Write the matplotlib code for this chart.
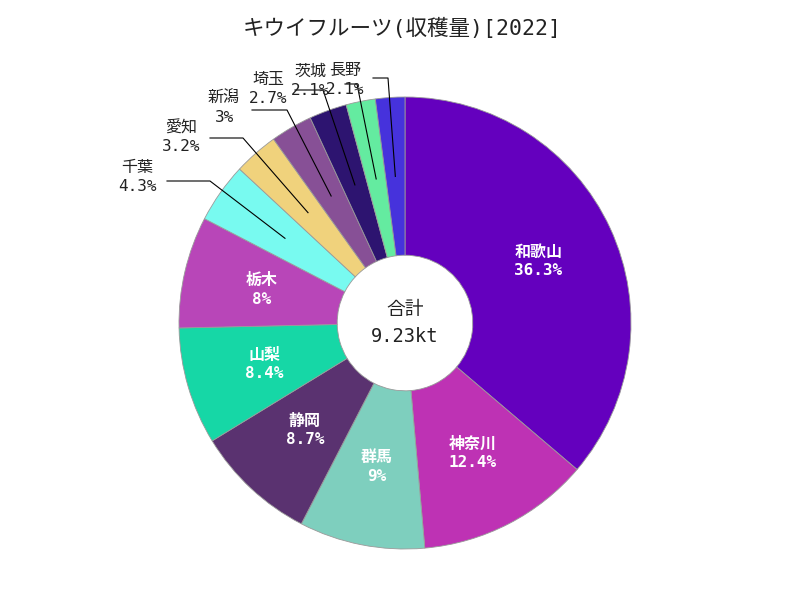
import numpy as np
import matplotlib.pyplot as plt

# monospace for latin/digits, CJK falls back to Noto
plt.rcParams['font.family'] = ['DejaVu Sans Mono', 'Noto Sans CJK JP']

# kiwi harvest 2022, share by prefecture (%)
prefs = ['和歌山', '神奈川', '群馬', '静岡', '山梨', '栃木',
         '千葉', '愛知', '新潟', '埼玉', '茨城', '長野']
shares = [36.3, 12.4, 9, 8.7, 8.4, 8, 4.3, 3.2, 3, 2.7, 2.1, 2.1]
colors = ['#6400BE', '#BE32B4', '#7ECFBE', '#5A3270', '#16D7A6', '#B846B8',
          '#78FAF0', '#F0D27C', '#875096', '#2D1470', '#64EBA0', '#4632DC']
total_kt = 9.23
n_inside = 6  # first six labels sit inside the ring

fig = plt.figure(figsize=(8, 6), dpi=100)

# pie centre and radius in pixels
cx, cy, R = 405, 323, 226
ax = fig.add_axes([(cx - R) / 800, (600 - cy - R) / 600, 2 * R / 800, 2 * R / 600])
wedges, _ = ax.pie(shares, colors=colors, startangle=90, counterclock=False,
                   radius=1, wedgeprops=dict(width=0.7, edgecolor='#9a9a9a', linewidth=0.6))
ax.set_xlim(-1, 1)
ax.set_ylim(-1, 1)
ax.axis('off')


def px(x, y):
    # pixel position -> data coords
    return (x - cx) / R, (cy - y) / R


def fmt(v):
    return ('%g' % v) + '%'


# labels inside the ring
for i in range(n_inside):
    w = wedges[i]
    a = np.deg2rad((w.theta1 + w.theta2) / 2)
    ax.text(0.65 * np.cos(a), 0.65 * np.sin(a), prefs[i] + '\n' + fmt(shares[i]),
            ha='center', va='center', color='white', fontsize=11.5,
            fontweight='bold', linespacing=1.3)

# outer labels: text centre, line y, line start x, elbow x (pixels)
out_pos = [(137, 177, 181, 167, 210),
           (181, 137, 138, 210, 243),
           (224, 108, 110, 252, 287),
           (268, 89, 90, 295, 323),
           (310, 81, 84, 345, 357),
           (345, 80, 78, 373, 388)]
for k, (tx, ty, ly, sx, ex) in enumerate(out_pos):
    i = n_inside + k
    w = wedges[i]
    a = np.deg2rad((w.theta1 + w.theta2) / 2)
    x0, y0 = px(sx, ly)
    x1, y1 = px(ex, ly)
    ax.plot([x0, x1, 0.65 * np.cos(a)], [y0, y1, 0.65 * np.sin(a)],
            color='black', lw=0.8, clip_on=False)
    x, y = px(tx, ty)
    ax.text(x, y, prefs[i] + '\n' + fmt(shares[i]), ha='center', va='center',
            color='#222222', fontsize=11.5, linespacing=1.3)

# total in the hole
ax.text(0, 0, '合計\n' + ('%.2fkt' % total_kt), ha='center', va='center',
        fontsize=13.5, color='#222222', linespacing=1.6)

fig.text(0.503, 1 - 28 / 600, 'キウイフルーツ(収穫量)[2022]', ha='center', va='center',
         fontsize=15.5, color='#222222')

fig.savefig('out.png', dpi=100)
